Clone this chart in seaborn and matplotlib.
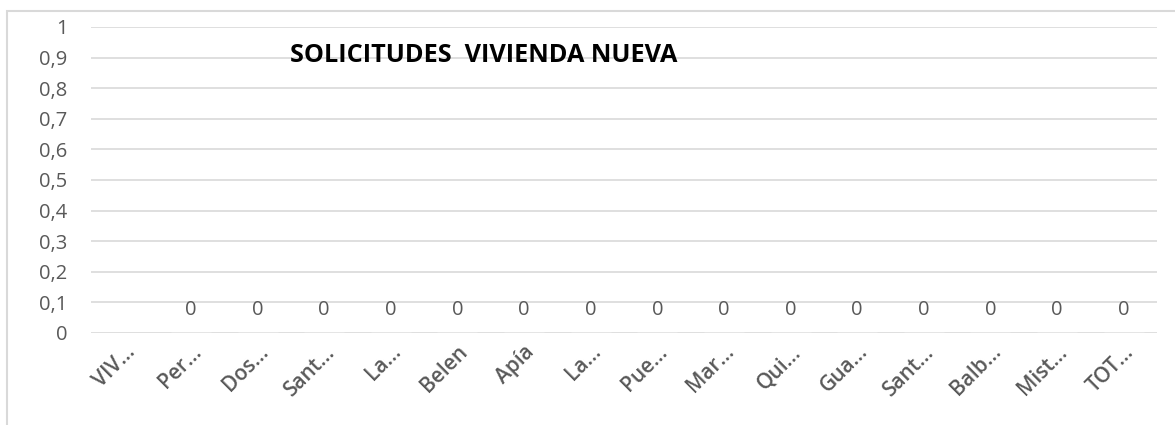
import matplotlib
matplotlib.use("Agg")
import matplotlib.pyplot as plt
import seaborn as sns
import numpy as np
import pandas as pd
from matplotlib.patches import Rectangle

categories = ["VIV…", "Per…", "Dos…", "Sant…", "La…", "Belen", "Apía", "La…",
              "Pue…", "Mar…", "Qui…", "Gua…", "Sant…", "Balb…", "Mist…", "TOT…"]
values = [np.nan, 0, 0, 0, 0, 0, 0, 0, 0, 0, 0, 0, 0, 0, 0, 0]
yticks = [0, 0.1, 0.2, 0.3, 0.4, 0.5, 0.6, 0.7, 0.8, 0.9, 1]
ytick_labels = ["0", "0,1", "0,2", "0,3", "0,4", "0,5", "0,6", "0,7", "0,8", "0,9", "1"]
title = "SOLICITUDES  VIVIENDA NUEVA"

sns.set_theme(style="white")
plt.rcParams['font.family'] = ['Open Sans', 'DejaVu Sans']

df = pd.DataFrame({"cat": [f"{i}" for i in range(len(categories))], "val": values})

fig = plt.figure(figsize=(11.75, 4.25), dpi=100)
ax = fig.add_axes([91/1175, 1-333/425, (1157-91)/1175, (333-27)/425])

sns.barplot(data=df, x="cat", y="val", ax=ax, color="#4472c4", width=0.6)

gray = "#595959"
ax.set_ylim(0, 1)
ax.set_xlim(-0.5, len(categories) - 0.5)
ax.set_yticks(yticks)
ax.set_yticklabels(ytick_labels)
ax.yaxis.grid(True, color="#d9d9d9", linewidth=1.2)
ax.set_axisbelow(True)
for s in ax.spines.values():
    s.set_visible(False)
ax.tick_params(axis="y", length=0, pad=17, labelsize=14.5, labelcolor=gray)
ax.tick_params(axis="x", length=0, pad=6, labelsize=15, labelcolor=gray)
ax.set_xticks(range(len(categories)))
ax.set_xticklabels(categories, rotation=45, ha="right", rotation_mode="anchor",
                   fontweight="semibold")
ax.set_xlabel("")
ax.set_ylabel("")

for i, v in enumerate(values):
    if not np.isnan(v):
        ax.annotate(f"{v:g}", xy=(i, v), xytext=(0, 23), textcoords="offset pixels",
                    ha="center", va="center", fontsize=14.5, color=gray)

fig.text(290/1175, 1-56/425, title, ha="left", va="center",
         fontsize=18.2, fontweight="bold", color="black")

fig.patches.append(Rectangle((7/1175, -0.05), 1.1, 1-11/425+0.05,
                             transform=fig.transFigure, fill=False,
                             edgecolor="#d9d9d9", linewidth=1.5, zorder=0))

fig.savefig("out.png", dpi=100, facecolor="white")
